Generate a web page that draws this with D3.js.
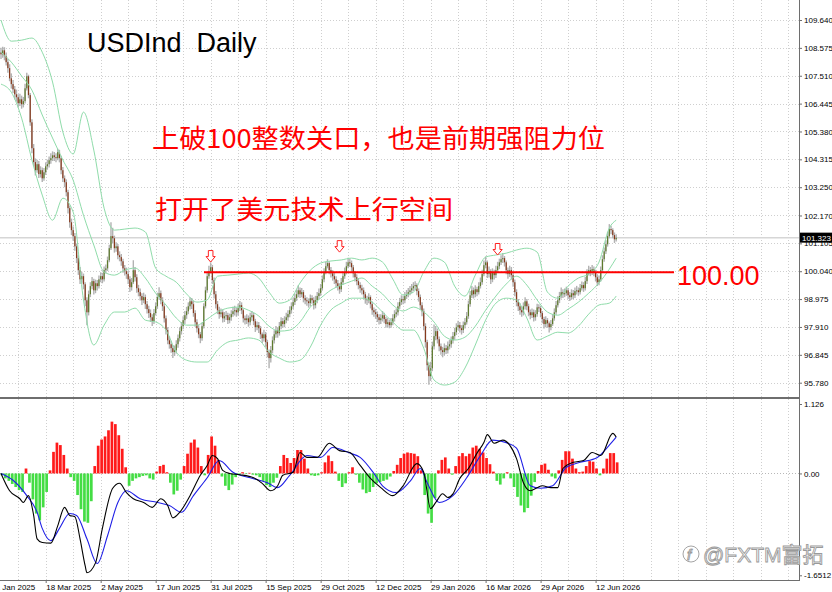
<!DOCTYPE html>
<html>
<head>
<meta charset="utf-8">
<script src="https://cdn.jsdelivr.net/npm/d3@7"></script>
<style>
  html, body { margin: 0; padding: 0; background: #fff; }
  svg { display: block; }
</style>
</head>
<body>
<div id="chart"></div>
<script>
// USD index, daily candles with Bollinger(20,2) and MACD pane.
// All values (estimated where blurry).

const firstOpen = 108.40;

const closes = [
  108.33,108.48,108.26,108.03,107.80,107.41,107.19,106.99,106.80,106.69,
  106.46,106.61,106.42,106.54,107.03,107.49,106.77,105.73,104.74,104.21,
  103.90,104.13,103.75,103.90,103.59,103.82,104.05,104.13,104.28,104.36,
  104.47,104.40,104.36,104.59,104.36,103.90,103.59,103.44,103.06,102.45,
  101.91,101.61,101.38,100.99,100.54,100.08,99.73,99.85,99.54,98.93,
  98.47,99.16,99.47,99.66,99.31,99.58,99.47,99.73,99.85,99.73,
  100.08,100.15,100.46,100.92,101.38,101.30,100.92,100.99,100.65,100.58,
  100.42,100.15,100.04,99.93,99.73,99.43,99.62,100.08,99.81,99.39,
  99.24,99.09,98.93,99.05,98.78,98.59,98.44,98.28,98.13,98.44,
  98.70,99.05,99.20,98.93,98.70,98.24,97.79,97.40,97.25,97.10,
  96.95,97.02,97.25,97.48,97.75,97.94,98.17,98.36,98.51,98.70,
  98.89,98.78,98.44,98.09,97.86,97.63,97.48,97.94,98.70,99.31,
  99.85,100.04,100.19,99.70,99.16,98.78,98.55,98.40,98.47,98.24,
  98.32,98.36,98.17,98.28,98.40,98.51,98.55,98.47,98.63,98.74,
  98.55,98.24,98.17,98.24,98.09,98.28,98.36,98.13,97.90,97.98,
  97.86,97.63,97.48,97.63,97.33,96.95,96.72,97.02,97.40,97.63,
  97.79,97.67,97.94,98.13,98.02,98.17,98.28,98.40,98.55,98.70,
  98.86,99.01,99.16,99.31,99.16,99.24,99.01,98.93,98.89,98.82,
  99.01,98.93,98.74,98.93,99.09,99.20,99.39,99.73,100.00,100.23,
  100.35,100.08,99.96,99.85,99.73,99.58,99.47,99.35,99.62,99.85,
  100.00,100.23,100.38,100.35,100.19,99.96,99.81,99.66,99.51,99.39,
  99.31,99.16,98.97,98.93,99.05,98.78,98.55,98.47,98.40,98.28,
  98.17,98.24,98.36,98.21,98.02,98.09,97.98,98.09,98.24,98.40,
  98.47,98.70,98.86,98.97,98.93,99.09,99.16,99.24,99.31,99.39,
  99.47,99.51,99.28,99.05,98.74,98.51,97.94,97.33,96.45,96.03,
  96.33,97.17,97.56,97.75,97.44,97.17,97.02,96.95,97.10,97.02,
  97.17,97.25,97.40,97.56,97.71,97.90,97.98,97.86,97.79,97.98,
  98.09,98.32,98.78,99.12,99.31,99.16,99.35,99.24,99.47,99.62,
  99.93,100.27,100.38,99.93,100.04,99.73,100.00,99.89,100.08,100.23,
  100.38,100.50,100.54,100.38,100.08,99.93,100.08,99.89,99.62,99.24,
  98.86,98.70,98.55,98.47,98.70,98.89,98.70,98.47,98.36,98.47,
  98.28,98.40,98.66,98.63,98.44,98.21,98.02,98.17,98.05,97.90,
  98.02,98.24,98.47,98.74,98.93,99.09,99.24,99.16,99.20,99.31,
  99.12,99.05,99.20,99.12,99.28,99.31,99.24,99.39,99.51,99.39,
  99.66,99.96,100.08,100.00,100.12,100.00,99.81,99.62,99.73,100.08,
  100.50,100.80,101.07,101.38,101.65,101.61,101.42,101.26,101.32
];

const highs = [
  108.58,108.62,108.60,108.40,108.15,107.95,107.60,107.35,107.12,106.98,
  106.80,106.82,106.75,106.70,107.20,107.62,107.55,106.85,105.85,104.90,
  104.35,104.30,104.25,104.05,104.00,103.98,104.20,104.30,104.42,104.55,
  104.62,104.60,104.55,104.72,104.68,104.45,104.02,103.70,103.55,103.15,
  102.55,102.05,101.75,101.50,101.10,100.65,100.20,100.02,99.95,99.62,
  99.05,99.30,99.62,99.82,99.75,99.72,99.70,99.88,100.00,99.98,
  100.22,100.30,100.60,101.05,101.91,101.70,101.40,101.15,101.08,100.80,
  100.70,100.52,100.28,100.18,100.05,99.85,99.78,100.46,100.20,99.92,
  99.52,99.38,99.20,99.22,99.15,98.90,98.72,98.58,98.40,98.60,
  98.85,99.22,99.43,99.30,99.05,98.80,98.35,97.90,97.55,97.38,
  97.22,97.20,97.40,97.62,97.90,98.10,98.32,98.52,98.68,98.85,
  99.05,99.02,98.90,98.55,98.20,97.98,97.72,98.08,98.82,99.45,
  100.00,100.25,100.38,100.28,99.80,99.28,98.90,98.68,98.62,98.58,
  98.48,98.52,98.45,98.42,98.55,98.68,98.72,98.65,98.80,98.90,
  98.85,98.62,98.35,98.40,98.35,98.45,98.52,98.45,98.22,98.12,
  98.10,97.95,97.70,97.80,97.72,97.42,97.05,97.18,97.55,97.78,
  97.95,97.90,98.10,98.28,98.25,98.32,98.45,98.55,98.70,98.85,
  99.02,99.18,99.32,99.50,99.42,99.40,99.32,99.12,99.05,99.00,
  99.15,99.12,99.05,99.10,99.25,99.38,99.55,99.88,100.15,100.40,
  100.50,100.42,100.20,100.08,99.98,99.85,99.70,99.58,99.78,100.00,
  100.18,100.40,100.55,100.52,100.45,100.28,100.05,99.92,99.78,99.62,
  99.52,99.42,99.25,99.10,99.20,99.12,98.88,98.65,98.60,98.50,
  98.40,98.40,98.52,98.45,98.30,98.25,98.18,98.25,98.40,98.55,
  98.62,98.85,99.02,99.12,99.10,99.25,99.32,99.40,99.48,99.55,
  99.62,99.66,99.58,99.38,99.15,98.85,98.62,98.05,97.42,96.55,
  96.58,97.35,98.00,97.95,97.85,97.55,97.28,97.15,97.28,97.22,
  97.35,97.42,97.55,97.72,97.88,98.05,98.15,98.10,97.98,98.12,
  98.25,98.48,98.92,99.28,99.48,99.42,99.50,99.45,99.62,99.80,
  100.10,100.45,100.60,100.45,100.22,100.12,100.15,100.10,100.25,100.40,
  100.52,100.65,100.74,100.62,100.45,100.18,100.25,100.20,99.98,99.72,
  99.35,98.98,98.82,98.68,98.85,99.05,98.98,98.80,98.58,98.62,
  98.58,98.55,98.80,98.78,98.72,98.52,98.30,98.32,98.25,98.12,
  98.18,98.40,98.62,98.90,99.08,99.25,99.42,99.35,99.38,99.45,
  99.40,99.25,99.35,99.32,99.42,99.48,99.42,99.55,99.65,99.62,
  99.82,100.12,100.25,100.20,100.28,100.22,100.10,99.92,99.88,100.22,
  100.65,100.95,101.22,101.55,101.84,101.78,101.68,101.52,101.45
];

const lows = [
  108.15,108.20,108.10,107.90,107.62,107.30,107.02,106.85,106.60,106.52,
  106.30,106.35,106.25,106.30,106.45,106.95,106.65,105.60,104.55,104.05,
  103.70,103.80,103.60,103.62,103.45,103.50,103.72,103.92,104.00,104.15,
  104.25,104.25,104.20,104.28,104.20,103.75,103.45,103.25,102.90,102.25,
  101.70,101.42,101.20,100.82,100.35,99.90,99.55,99.60,99.35,98.70,
  97.98,98.35,99.05,99.35,99.15,99.20,99.30,99.38,99.62,99.58,
  99.65,99.95,100.05,100.38,100.85,101.10,100.75,100.78,100.50,100.42,
  100.25,99.98,99.88,99.75,99.55,99.25,99.30,99.55,99.65,99.22,
  99.08,98.92,98.75,98.82,98.60,98.42,98.25,98.10,97.95,98.02,
  98.35,98.60,98.95,98.78,98.52,98.08,97.62,97.25,97.08,96.92,
  96.72,96.80,96.90,97.12,97.35,97.62,97.82,98.02,98.22,98.40,
  98.58,98.60,98.30,97.92,97.70,97.48,97.29,97.38,97.85,98.62,
  99.22,99.75,99.95,99.55,99.00,98.62,98.40,98.22,98.28,98.08,
  98.10,98.18,98.02,98.05,98.15,98.30,98.35,98.30,98.35,98.52,
  98.40,98.08,98.00,98.02,97.92,97.98,98.15,97.98,97.72,97.78,
  97.68,97.45,97.30,97.35,97.15,96.75,96.33,96.55,96.90,97.28,
  97.50,97.50,97.58,97.82,97.88,97.90,98.05,98.15,98.28,98.42,
  98.60,98.75,98.90,99.05,99.02,99.05,98.85,98.78,98.72,98.65,
  98.70,98.80,98.58,98.62,98.82,98.98,99.10,99.30,99.62,99.92,
  100.15,99.92,99.80,99.68,99.55,99.42,99.30,99.18,99.25,99.52,
  99.75,99.92,100.15,100.20,100.02,99.80,99.65,99.50,99.35,99.22,
  99.15,99.00,98.80,98.75,98.82,98.62,98.38,98.30,98.22,98.10,
  98.00,98.02,98.12,98.05,97.88,97.90,97.86,97.88,97.98,98.12,
  98.28,98.35,98.60,98.75,98.78,98.82,98.98,99.05,99.12,99.20,
  99.28,99.32,99.12,98.88,98.58,98.32,97.78,97.12,96.25,95.70,
  95.85,96.22,97.05,97.40,97.28,96.98,96.85,96.75,96.82,96.88,
  96.90,97.05,97.12,97.28,97.42,97.60,97.78,97.70,97.62,97.68,
  97.85,98.00,98.22,98.68,99.02,99.00,99.05,99.08,99.15,99.38,
  99.52,99.85,100.15,99.78,99.80,99.55,99.62,99.72,99.78,99.98,
  100.12,100.28,100.35,100.22,99.92,99.75,99.82,99.72,99.45,99.08,
  98.70,98.52,98.38,98.30,98.35,98.58,98.55,98.32,98.20,98.25,
  98.12,98.15,98.30,98.48,98.28,98.05,97.85,97.90,97.88,97.70,
  97.78,97.95,98.15,98.38,98.65,98.82,99.00,99.02,99.05,99.10,
  98.98,98.90,98.95,98.98,99.02,99.15,99.10,99.15,99.30,99.25,
  99.30,99.55,99.88,99.85,99.90,99.85,99.65,99.48,99.50,99.65,
  100.00,100.40,100.70,100.98,101.30,101.45,101.30,101.12,101.18
];

// Bollinger band readings, every 6th bar
const bandBars = [
  0,6,12,18,24,30,36,42,48,54,60,66,72,78,84,90,96,102,108,114,
  120,126,132,138,144,150,156,162,168,174,180,186,192,198,204,210,216,222,228,234,
  240,246,252,258,264,270,276,282,288,294,300,306,312,318,324,330,336,342,348,354,358
];
const bbUpper = [
  109.64,108.83,108.87,108.95,108.41,107.27,105.36,104.52,106.12,104.67,
  102.45,101.61,101.65,101.69,101.54,100.16,99.85,99.62,99.17,98.86,
  98.94,99.85,99.89,99.93,99.97,99.78,99.24,98.82,98.94,99.59,
  100.08,100.35,100.43,100.47,100.54,100.47,100.54,100.39,99.74,99.13,
  99.24,100.01,100.54,100.39,99.47,99.09,99.89,100.58,100.66,100.73,
  100.85,100.92,100.77,99.24,99.01,99.47,99.78,99.93,100.39,101.69,101.99
];
const bbMiddle = [
  108.41,108.03,107.50,106.96,106.01,105.13,104.29,103.52,102.18,101.04,
  100.01,99.89,100.08,100.16,99.78,99.20,98.75,98.25,97.98,97.98,
  98.21,98.48,98.63,98.67,98.55,98.33,97.94,97.75,97.79,98.10,
  98.67,99.01,99.32,99.51,99.66,99.78,99.47,99.17,98.75,98.52,
  98.67,98.48,98.10,97.56,97.41,97.52,97.94,98.55,99.09,99.55,
  99.85,99.51,98.94,98.48,98.36,98.59,98.86,99.20,99.59,100.12,100.54
];
const bbLower = [
  107.19,106.88,105.89,104.29,102.95,101.99,102.83,102.30,98.94,97.22,
  97.98,98.48,98.48,98.63,98.17,98.10,97.79,96.95,96.64,96.57,
  96.57,97.03,97.33,97.41,97.49,97.41,96.95,96.72,96.57,96.64,
  97.14,97.98,98.56,98.82,99.01,99.01,98.86,98.48,98.10,97.79,
  97.79,97.10,95.88,95.69,95.80,96.34,97.22,98.17,98.82,99.01,
  98.94,98.25,97.41,97.56,97.71,97.68,97.94,98.40,98.75,98.82,99.09
];

// MACD main (black) and signal (blue) readings
const macdBars = [
  0,5,11,13,16,19,21,24,29,33,37,40,43,46,49,50,55,59,65,69,73,77,83,88,93,97,100,104,
  110,116,120,123,126,129,133,139,147,152,157,161,164,170,174,178,184,191,197,203,209,
  215,221,228,234,242,246,250,253,257,260,263,267,272,277,281,283,287,292,296,300,304,
  308,312,315,320,324,327,333,339,344,349,356,358
];
const macdMain = [
  0.00,-0.28,-0.41,-0.47,-0.36,-0.68,-1.06,-1.12,-1.13,-0.85,-0.55,-0.68,-0.70,-1.06,-1.50,-1.61,-1.45,-0.89,-0.24,-0.16,-0.31,-0.41,-0.47,-0.55,-0.41,-0.52,-0.72,-0.63,
  -0.36,-0.03,0.13,0.29,0.24,0.05,0.00,-0.02,-0.07,-0.16,-0.28,-0.20,-0.03,0.02,0.34,0.26,0.26,0.49,0.37,0.34,0.13,
  -0.08,-0.23,-0.36,-0.20,0.16,0.02,-0.57,-0.47,-0.33,-0.39,-0.33,-0.08,0.08,0.33,0.50,0.63,0.49,0.54,0.46,0.24,-0.15,
  -0.28,-0.23,-0.20,-0.23,-0.23,0.08,0.18,0.21,0.34,0.29,0.65,0.59
];
const signalBars = [
  0,7,15,21,24,29,34,40,44,50,56,62,68,73,81,91,98,105,112,120,127,135,145,155,161,168,
  178,186,193,203,209,217,222,230,238,244,248,255,263,271,279,286,294,300,308,314,321,
  329,337,347,354,358
];
const macdSignal = [
  0.00,-0.11,-0.36,-0.63,-0.89,-1.09,-0.89,-0.65,-0.68,-1.06,-1.46,-1.01,-0.47,-0.28,-0.41,-0.47,-0.52,-0.63,-0.36,-0.07,0.21,0.02,-0.07,-0.15,-0.23,-0.03,
  0.29,0.26,0.42,0.33,0.26,0.00,-0.20,-0.31,-0.13,0.08,-0.15,-0.47,-0.36,-0.07,0.29,0.54,0.50,0.41,-0.20,-0.24,-0.20,
  0.10,0.18,0.26,0.46,0.59
];
// histogram, one reading for every second bar
const macdHist = [
  -0.03,-0.08,-0.12,-0.17,-0.22,-0.27,-0.30,0.08,-0.15,-0.42,
  -0.65,-0.76,-0.55,-0.30,0.05,0.35,0.50,0.46,0.30,0.08,
  -0.06,-0.12,-0.35,-0.58,-0.78,-0.80,-0.45,0.12,0.45,0.55,
  0.60,0.70,0.84,0.80,0.62,0.40,0.10,-0.20,-0.12,-0.08,
  -0.06,-0.04,-0.03,-0.08,-0.10,0.03,0.12,0.14,0.02,-0.15,
  -0.34,-0.28,-0.10,0.12,0.32,0.50,0.55,0.42,0.12,-0.03,
  0.30,0.60,0.45,0.22,-0.05,-0.20,-0.27,-0.18,-0.06,-0.02,
  0.02,-0.01,0.01,-0.02,-0.03,-0.06,-0.12,-0.19,-0.22,-0.15,
  -0.07,0.12,0.30,0.25,0.17,0.25,0.38,0.38,0.24,0.08,
  -0.03,-0.04,-0.03,0.02,0.18,0.29,0.20,0.03,-0.12,-0.22,
  -0.16,0.02,0.10,-0.02,-0.15,-0.26,-0.32,-0.30,-0.22,-0.16,
  -0.14,-0.12,-0.10,-0.05,0.04,0.14,0.25,0.32,0.34,0.33,
  0.32,0.28,0.05,-0.35,-0.65,-0.80,-0.40,0.05,0.22,0.26,
  0.08,-0.02,0.12,0.28,0.33,0.28,0.32,0.42,0.45,0.40,
  0.34,0.25,0.15,0.03,-0.12,-0.18,-0.08,0.02,-0.08,-0.22,
  -0.38,-0.52,-0.63,-0.56,-0.36,-0.14,0.04,0.14,0.16,0.06,
  -0.05,-0.08,0.05,0.22,0.36,0.36,0.24,0.08,0.02,0.03,
  0.12,0.20,0.19,0.08,-0.03,0.08,0.24,0.33,0.33,0.18
];

const priceTicks = [109.640,108.575,107.510,106.445,105.380,104.315,103.250,102.170,101.105,100.040,98.975,97.910,96.845,95.780];
const macdTicks = [1.126, 0, -1.6512];
const macdTickLabels = ["1.126", "0.00", "-1.6512"];
const dateTickBars = [-6,26,58,90,122,154,186,218,250,282,314,346];
const dateTickLabels = ["31 Jan 2025","18 Mar 2025","2 May 2025","17 Jun 2025","31 Jul 2025","15 Sep 2025",
  "29 Oct 2025","12 Dec 2025","29 Jan 2026","16 Mar 2026","29 Apr 2026","12 Jun 2026"];

const lastPrice = 101.323;
const resistance = 100.00;
const arrowBars = [122, 197, 289];
const arrowTips = [100.39, 100.77, 100.66];

// ---- layout ----
const W = 832, H = 592;
const AXIS_X = 799;
const MAIN_BOTTOM = 397;
const SUB_TOP = 399, SUB_BOTTOM = 580;
const FONT = "'Liberation Sans', Arial, sans-serif";
const CJK = "'Noto Sans CJK SC', 'Noto Sans CJK TC', sans-serif";

const x = d3.scaleLinear().domain([0, 358]).range([1, 616.2]);
const y = d3.scaleLinear().domain([95.78, 109.64]).range([382.7, 20]);
const ym = d3.scaleLinear().domain([-1.6512, 1.126]).range([575.3, 404]);

const svg = d3.select("#chart").append("svg")
  .attr("width", W).attr("height", H)
  .attr("viewBox", `0 0 ${W} ${H}`);

svg.append("rect").attr("width", W).attr("height", H).attr("fill", "#fff");

const defs = svg.append("defs");
defs.append("clipPath").attr("id", "clipMain")
  .append("rect").attr("x", 0).attr("y", 0).attr("width", AXIS_X).attr("height", MAIN_BOTTOM);
defs.append("clipPath").attr("id", "clipSub")
  .append("rect").attr("x", 0).attr("y", SUB_TOP).attr("width", AXIS_X).attr("height", SUB_BOTTOM - SUB_TOP);

// grid: vertical every 16 bars, horizontal on price ticks
const gridBars = d3.range(10, 465, 16);
const grid = svg.append("g").attr("stroke", "#cfcfcf").attr("stroke-width", 1)
  .attr("stroke-dasharray", "1,2").attr("shape-rendering", "crispEdges");
grid.selectAll("line.v").data(gridBars).join("line")
  .attr("x1", d => Math.round(x(d)) + 0.5).attr("x2", d => Math.round(x(d)) + 0.5)
  .attr("y1", 0).attr("y2", SUB_BOTTOM);
grid.selectAll("line.h").data(priceTicks).join("line")
  .attr("x1", 0).attr("x2", AXIS_X)
  .attr("y1", d => Math.round(y(d)) + 0.5).attr("y2", d => Math.round(y(d)) + 0.5);
grid.append("line")
  .attr("x1", 0).attr("x2", AXIS_X)
  .attr("y1", Math.round(ym(0)) + 0.5).attr("y2", Math.round(ym(0)) + 0.5)
  .attr("stroke", "#b8b8b8");

// current-price line
svg.append("line")
  .attr("x1", 0).attr("x2", AXIS_X)
  .attr("y1", y(lastPrice)).attr("y2", y(lastPrice))
  .attr("stroke", "#d6d6d6").attr("stroke-width", 1.5);

// ---- candles ----
const bars = closes.map((c, i) => ({
  i, c, o: i === 0 ? firstOpen : closes[i - 1], h: highs[i], l: lows[i]
}));

const gMain = svg.append("g").attr("clip-path", "url(#clipMain)");

gMain.append("g").selectAll("line").data(bars).join("line")
  .attr("x1", d => x(d.i)).attr("x2", d => x(d.i))
  .attr("y1", d => y(Math.max(d.h, d.o, d.c)))
  .attr("y2", d => y(Math.min(d.l, d.o, d.c)))
  .attr("stroke", "#b2b2b2").attr("stroke-width", 1.4);

gMain.append("g").selectAll("rect").data(bars).join("rect")
  .attr("x", d => x(d.i) - 0.6)
  .attr("width", 1.2)
  .attr("y", d => y(Math.max(d.o, d.c)))
  .attr("height", d => Math.max(1, Math.abs(y(d.o) - y(d.c))))
  .attr("fill", d => d.c >= d.o ? "#5d7a2c" : "#86391c");

// ---- Bollinger bands ----
const bandLine = d3.line()
  .x(d => x(d[0])).y(d => y(d[1]))
  .curve(d3.curveMonotoneX);
[bbUpper, bbMiddle, bbLower].forEach(vals => {
  gMain.append("path")
    .datum(bandBars.map((b, k) => [b, vals[k]]))
    .attr("d", bandLine)
    .attr("fill", "none")
    .attr("stroke", "#8fdcaa")
    .attr("stroke-width", 1);
});

// ---- resistance line and markers ----
svg.append("line")
  .attr("x1", 204).attr("x2", 674)
  .attr("y1", y(resistance)).attr("y2", y(resistance))
  .attr("stroke", "#ff0000").attr("stroke-width", 2);

svg.append("text")
  .attr("x", 677).attr("y", y(resistance) + 12.5)
  .attr("font-family", FONT).attr("font-size", 27)
  .attr("fill", "#ff0000")
  .text("100.00");

function arrowPath(cx, tip) {
  const w = 2.3, hw = 4.6, sh = 6, hh = 5.5;
  const top = tip - sh - hh;
  return `M${cx - w},${top}L${cx + w},${top}L${cx + w},${top + sh}L${cx + hw},${top + sh}` +
    `L${cx},${tip}L${cx - hw},${top + sh}L${cx - w},${top + sh}Z`;
}
svg.append("g").selectAll("path").data(arrowBars).join("path")
  .attr("d", (b, k) => arrowPath(x(b), y(arrowTips[k])))
  .attr("fill", "#fff").attr("stroke", "#ff2020").attr("stroke-width", 1);

// ---- MACD pane ----
const gSub = svg.append("g").attr("clip-path", "url(#clipSub)");

gSub.append("g").selectAll("rect").data(macdHist).join("rect")
  .attr("x", (v, k) => x(2 * k) - 0.4)
  .attr("width", 2.7)
  .attr("y", v => Math.min(ym(v), ym(0)))
  .attr("height", v => Math.abs(ym(v) - ym(0)))
  .attr("fill", v => v >= 0 ? "#ff1a1a" : "#44dd44");

const macdLine = d3.line()
  .x(d => x(d[0])).y(d => ym(d[1]))
  .curve(d3.curveMonotoneX);

gSub.append("path")
  .datum(signalBars.map((b, k) => [b, macdSignal[k]]))
  .attr("d", macdLine)
  .attr("fill", "none").attr("stroke", "#1f1fe6").attr("stroke-width", 1.1);

gSub.append("path")
  .datum(macdBars.map((b, k) => [b, macdMain[k]]))
  .attr("d", macdLine)
  .attr("fill", "none").attr("stroke", "#000").attr("stroke-width", 1.1);

// ---- frames ----
const frame = svg.append("g").attr("stroke", "#6e6e6e").attr("shape-rendering", "crispEdges");
frame.append("line").attr("x1", AXIS_X + 0.5).attr("x2", AXIS_X + 0.5).attr("y1", 0).attr("y2", SUB_BOTTOM + 0.5);
frame.append("line").attr("x1", 0).attr("x2", AXIS_X + 1).attr("y1", MAIN_BOTTOM + 0.5).attr("y2", MAIN_BOTTOM + 0.5)
  .attr("stroke-width", 2);
frame.append("line").attr("x1", 0).attr("x2", AXIS_X + 1).attr("y1", SUB_BOTTOM + 0.5).attr("y2", SUB_BOTTOM + 0.5);

// ---- axes ----
function styleAxis(g) {
  g.select(".domain").remove();
  g.attr("font-family", FONT).attr("font-size", 8);
  g.selectAll(".tick line").attr("stroke", "#6e6e6e");
  g.selectAll(".tick text").attr("fill", "#000");
}

svg.append("g")
  .attr("transform", `translate(${AXIS_X},0)`)
  .call(d3.axisRight(y).tickValues(priceTicks).tickFormat(d3.format(".3f")).tickSize(3).tickPadding(2))
  .call(styleAxis);

svg.append("g")
  .attr("transform", `translate(${AXIS_X},0)`)
  .call(d3.axisRight(ym).tickValues(macdTicks)
    .tickFormat((d, k) => macdTickLabels[k]).tickSize(3).tickPadding(2))
  .call(styleAxis);

svg.append("g")
  .attr("transform", `translate(0,${SUB_BOTTOM})`)
  .call(d3.axisBottom(x).tickValues(dateTickBars)
    .tickFormat((d, k) => dateTickLabels[k]).tickSize(3).tickPadding(1))
  .call(styleAxis)
  .call(g => g.selectAll(".tick text").attr("text-anchor", "start").attr("x", 0));

// last price tag
svg.append("rect")
  .attr("x", AXIS_X + 1).attr("y", y(lastPrice) - 5)
  .attr("width", W - AXIS_X - 1).attr("height", 10)
  .attr("fill", "#000");
svg.append("text")
  .attr("x", AXIS_X + 3).attr("y", y(lastPrice) + 3)
  .attr("font-family", FONT).attr("font-size", 8).attr("fill", "#fff")
  .text(d3.format(".3f")(lastPrice));

// ---- titles and notes ----
svg.append("text")
  .attr("x", 87).attr("y", 52)
  .attr("font-family", FONT).attr("font-size", 27).attr("fill", "#000")
  .attr("xml:space", "preserve")
  .text("USDInd  Daily");

svg.append("text")
  .attr("x", 152).attr("y", 148)
  .attr("font-family", CJK).attr("font-size", 26).attr("fill", "#ff0000")
  .attr("textLength", 453).attr("lengthAdjust", "spacingAndGlyphs")
  .text("上破100整数关口，也是前期强阻力位");

svg.append("text")
  .attr("x", 155).attr("y", 219)
  .attr("font-family", CJK).attr("font-size", 26).attr("fill", "#ff0000")
  .attr("textLength", 298).attr("lengthAdjust", "spacingAndGlyphs")
  .text("打开了美元技术上行空间");

// watermark
const wm = svg.append("g").attr("fill", "#fff").attr("stroke", "#9a9a9a").attr("stroke-width", 0.9);
wm.append("circle").attr("cx", 691).attr("cy", 554).attr("r", 8).attr("fill", "none");
wm.append("text")
  .attr("x", 687).attr("y", 560)
  .attr("font-family", FONT).attr("font-size", 15).attr("font-style", "italic")
  .text("f");
wm.append("text")
  .attr("x", 703).attr("y", 562)
  .attr("font-family", "'Liberation Sans', 'Noto Sans CJK SC', sans-serif").attr("font-size", 21)
  .text("@FXTM富拓");
</script>
</body>
</html>
